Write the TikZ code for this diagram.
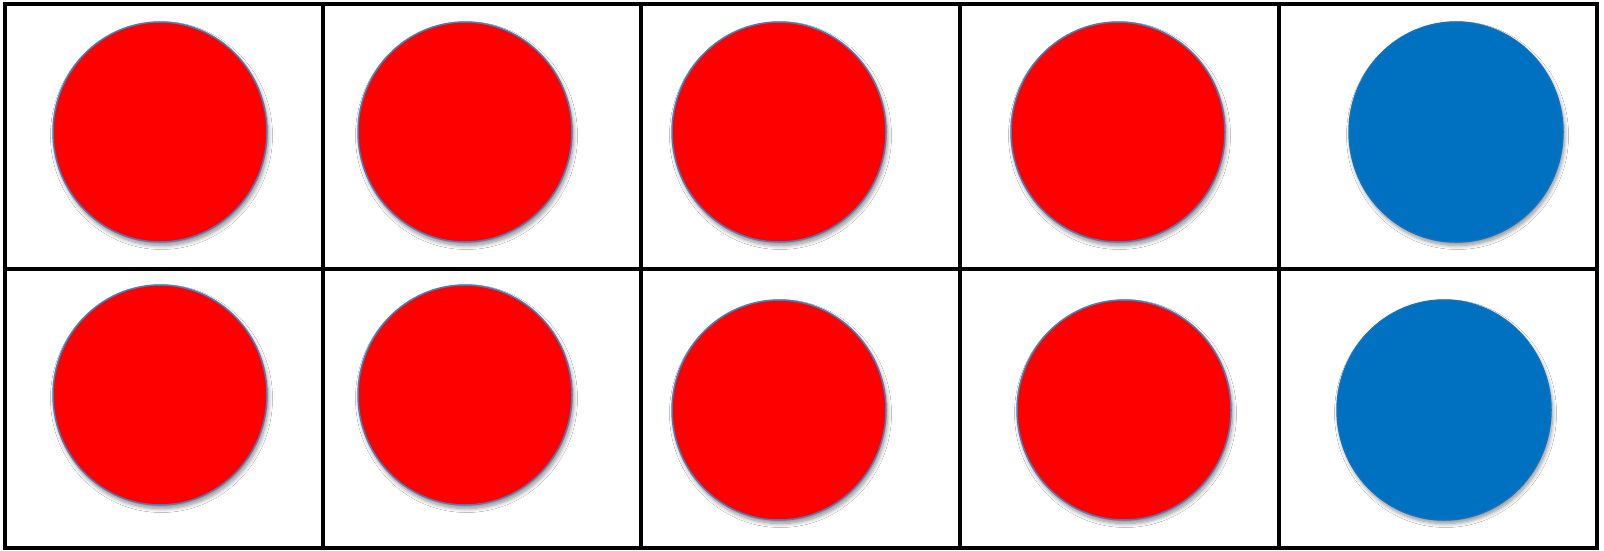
\documentclass[tikz,border=0pt]{standalone}
\usetikzlibrary{shapes.geometric,shadows.blur}
\definecolor{dotred}{HTML}{FF0000}
\definecolor{dotblue}{HTML}{0070C0}
\definecolor{rimblue}{HTML}{4A7EBB}
\tikzset{
  dot/.style={ellipse, inner sep=0pt, minimum width=214pt, minimum height=220pt,
    draw=rimblue, line width=1.5pt,
    blur shadow={shadow xshift=1.5pt, shadow yshift=-3.5pt, shadow blur radius=4pt, shadow blur steps=8, shadow opacity=45}},
  reddot/.style={dot, fill=dotred},
  bluedot/.style={dot, fill=dotblue, draw=dotblue!80!rimblue},
  gridline/.style={line width=3.2pt, black}
}
\begin{document}
\begin{tikzpicture}[x=1pt,y=-1pt]
\useasboundingbox (0,0) rectangle (1604,550);
\fill[white] (0,0) rectangle (1604,550);
% row 1
\node[reddot] (a1) at (160,132) {};
\node[reddot] (a2) at (465,132) {};
\node[reddot] (a3) at (779,132) {};
\node[reddot] (a4) at (1118,132) {};
\node[bluedot] (a5) at (1456,132) {};
% row 2
\node[reddot] (b1) at (160,395) {};
\node[reddot] (b2) at (465,395) {};
\node[reddot] (b3) at (779,410) {};
\node[reddot] (b4) at (1124,410) {};
\node[bluedot] (b5) at (1444,410) {};
% grid
\draw[gridline] (5,4) rectangle (1597,548);
\draw[gridline] (5,269) -- (1597,269);
\foreach \x in {323,641,960,1279} \draw[gridline] (\x,4) -- (\x,548);
\end{tikzpicture}
\end{document}
